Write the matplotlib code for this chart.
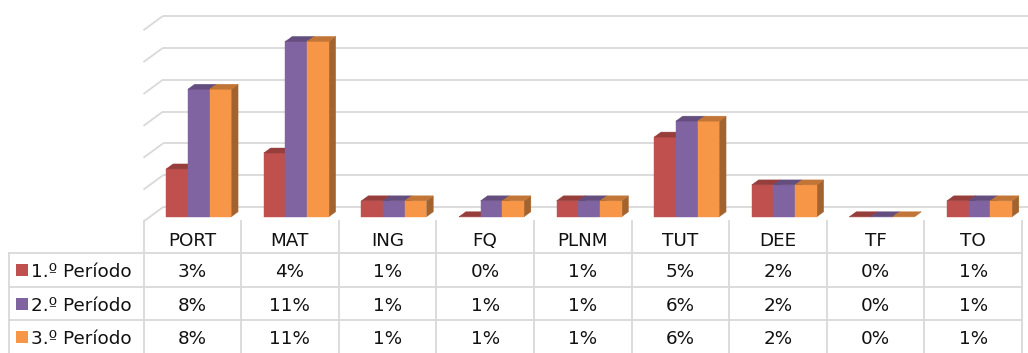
import matplotlib.pyplot as plt
import numpy as np
from matplotlib.colors import to_rgb
from matplotlib.patches import Polygon, Rectangle

categories = ["PORT", "MAT", "ING", "FQ", "PLNM", "TUT", "DEE", "TF", "TO"]
period_labels = ["1.º Período", "2.º Período", "3.º Período"]
periodo_1 = [3, 4, 1, 0, 1, 5, 2, 0, 1]
periodo_2 = [8, 11, 1, 1, 1, 6, 2, 0, 1]
periodo_3 = [8, 11, 1, 1, 1, 6, 2, 0, 1]
series = [periodo_1, periodo_2, periodo_3]
colors = ["#C0504D", "#8064A2", "#F79646"]

GRID = "#D9D9D9"
TEXT = "#111111"
FONT = 13.2

# oblique 3D look: depth d in [0, 1] pushes a point right and up
DX = 0.1998
DV = 0.897


def proj(x, v, d):
    return x + DX * d, v + DV * d


def shade(c, k):
    r, g, b = to_rgb(c)
    return (r * k, g * k, b * k)


fig = plt.figure(figsize=(10.28, 3.53), dpi=100)

# chart axes: x in category units, y in percent
ax = fig.add_axes([0, 0, 1, 1])
ax.set_xlim(-1.47, 9.063)
ax.set_ylim(-8.25, 13.896)
ax.axis("off")
ax.patch.set_alpha(0)

# back wall gridlines and the short left-wall diagonals
for v in range(0, 13, 2):
    xb, yb = proj(0, v, 1)
    xe, ye = proj(9.5, v, 1)
    xf, yf = proj(0, v, 0)
    ax.plot([xb, xe], [yb, ye], color=GRID, lw=1.3, zorder=1, solid_capstyle="butt")
    ax.plot([xf, xb], [yf, yb], color=GRID, lw=1.3, zorder=1, solid_capstyle="butt")

w = 0.2222
d0, d1 = 0.33, 0.68
z = 2
for i in range(len(categories)):
    for j, vals in enumerate(series):
        v = vals[i]
        left = i + 0.5 + (j - 1.5) * w
        right = left + w
        c = colors[j]
        front = [proj(left, 0, d0), proj(right, 0, d0), proj(right, v, d0), proj(left, v, d0)]
        top = [proj(left, v, d0), proj(right, v, d0), proj(right, v, d1), proj(left, v, d1)]
        side = [proj(right, 0, d0), proj(right, 0, d1), proj(right, v, d1), proj(right, v, d0)]
        for pts, col in ((side, shade(c, 0.66)), (front, to_rgb(c)), (top, shade(c, 0.78))):
            ax.add_patch(Polygon(pts, closed=True, facecolor=col, edgecolor=col,
                                 lw=0.3, zorder=z))
        z += 1

# data table underneath, laid out in pixel units
tab = fig.add_axes([0, 0, 1, 1], zorder=-1)
tab.set_xlim(0, 1028)
tab.set_ylim(353, 0)
tab.axis("off")

x_lab = 8.5
x0 = 143.5
cw = 97.6
y_head = 220.5
row_h = 33.5
y_rows = [253 + k * row_h for k in range(4)]
x_end = x0 + cw * len(categories)

for y in y_rows:
    tab.plot([x_lab, x_end], [y, y], color=GRID, lw=1.3)
tab.plot([x_lab, x_lab], [y_rows[0], 353], color=GRID, lw=1.3)
for k in range(len(categories) + 1):
    xk = x0 + cw * k
    tab.plot([xk, xk], [y_head, 353], color=GRID, lw=1.3)

for i, cat in enumerate(categories):
    tab.text(x0 + cw * (i + 0.5), y_head + row_h / 2 + 8.5, cat, ha="center",
             va="baseline", fontsize=FONT, color=TEXT)

for j, (lab, vals) in enumerate(zip(period_labels, series)):
    yc = y_rows[j] + row_h / 2 + 0.5
    tab.add_patch(Rectangle((16, yc - 6), 12, 12, facecolor=colors[j], edgecolor="none"))
    tab.text(31, yc + 7, lab, ha="left", va="baseline", fontsize=FONT, color=TEXT)
    for i, v in enumerate(vals):
        tab.text(x0 + cw * (i + 0.5), yc + 7, f"{v}%", ha="center",
                 va="baseline", fontsize=FONT, color=TEXT)

fig.savefig("out.png", dpi=100)
